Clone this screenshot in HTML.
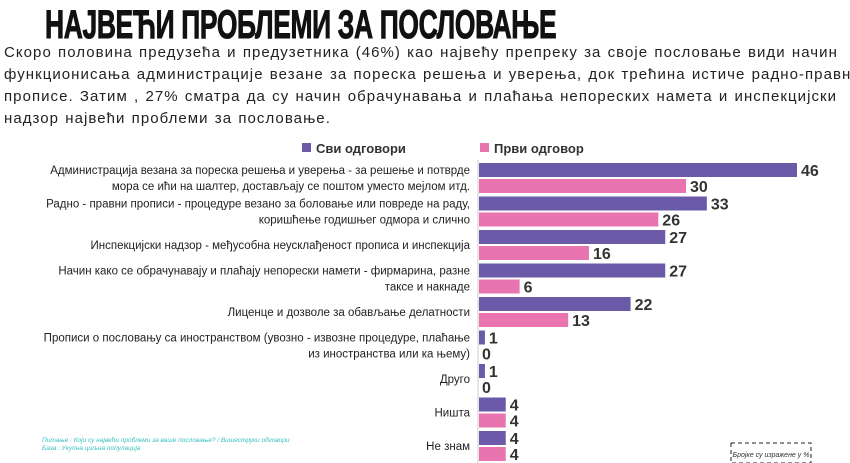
<!DOCTYPE html>
<html><head><meta charset="utf-8"><style>
body{margin:0;width:850px;height:463px;overflow:hidden;background:#fff;font-family:"Liberation Sans",sans-serif;position:relative}
#title{position:absolute;left:45px;top:2px;font-size:40px;line-height:46px;font-weight:bold;color:#111;transform:scaleX(0.66);transform-origin:0 0;white-space:nowrap;letter-spacing:-0.5px;-webkit-text-stroke:1px #111}
#intro{position:absolute;left:4px;top:42px;font-size:15px;line-height:22px;color:#222;white-space:nowrap;letter-spacing:1.05px;word-spacing:1px}
svg{position:absolute;left:0;top:0}
</style></head><body>
<div id="title">НАЈВЕЋИ ПРОБЛЕМИ ЗА ПОСЛОВАЊЕ</div>
<div id="intro">Скоро половина предузећа и предузетника (46%) као највећу препреку за своје пословање види начин<br>функционисања администрације везане за пореска решења и уверења, док трећина истиче радно-правне<br>прописе. Затим , 27% сматра да су начин обрачунавања и плаћања непореских намета и инспекцијски<br>надзор највећи проблеми за пословање.</div>
<svg id="chart" width="850" height="463">
<g>
<rect x="302" y="143" width="9" height="9" fill="#6a5aa8"/>
<text x="316" y="153" font-size="13" font-weight="bold" fill="#333">Сви одговори</text>
<rect x="480" y="143" width="9" height="9" fill="#e875b0"/>
<text x="494" y="153" font-size="13" font-weight="bold" fill="#333">Први одговор</text>
</g>
<line x1="478" y1="160" x2="478" y2="463" stroke="#ccc" stroke-width="1"/>
<g id="bars"></g>
<text x="42" y="442" font-size="6.5" font-style="italic" fill="#3bbfc0">Питање : Који су највећи проблеми за ваше пословање? / Вишеструки одговори</text>
<text x="42" y="450" font-size="6.5" font-style="italic" fill="#3bbfc0">База : Укупна циљна популација</text>
<rect x="731" y="443" width="80" height="20" fill="none" stroke="#222" stroke-dasharray="4,3"/>
<text x="771" y="457" font-size="7" font-style="italic" fill="#333" text-anchor="middle">Бројке су изражене у %</text>
</svg>
<script>
const categories=[
 ["Администрација везана за пореска решења и уверења - за решење и потврде","мора се ићи на шалтер, достављају се поштом уместо мејлом итд."],
 ["Радно - правни прописи - процедуре везано за боловање или повреде на раду,","коришћење годишњег одмора и слично"],
 ["Инспекцијски надзор - међусобна неусклађеност прописа и инспекција"],
 ["Начин како се обрачунавају и плаћају непорески намети - фирмарина, разне","таксе и накнаде"],
 ["Лиценце и дозволе за обављање делатности"],
 ["Прописи о пословању са иностранством (увозно - извозне процедуре, плаћање","из иностранства или ка њему)"],
 ["Друго"],["Ништа"],["Не знам"]];
const allAnswers=[46,33,27,27,22,1,1,4,4];
const firstAnswer=[30,26,16,6,13,0,0,4,4];
const x0=478, unit=(797-478)/46;
const xs=v=>x0+v*unit;
const rowY=i=>170+i*33.5;
const g=document.getElementById('bars');
const NS='http://www.w3.org/2000/svg';
function mk(t,a){const e=document.createElementNS(NS,t);for(const k in a)e.setAttribute(k,a[k]);g.appendChild(e);return e;}
categories.forEach((c,i)=>{
 const yc=rowY(i);
 [[allAnswers,'#6a5aa8',0,'bar-all'],[firstAnswer,'#e875b0',16,'bar-first']].forEach(([arr,col,off,nm])=>{
  const v=arr[i], y=yc+off;
  const r=mk('rect',{x:x0+1,y:y-7,width:Math.max(0,xs(v)-x0-1),height:14,fill:col});
  
  
  const t=mk('text',{x:xs(v)+4,y:y+6,'font-size':16,'font-weight':'bold',fill:'#333'});
  t.textContent=v;
  
  
 });
 const baseY=c.length===2?yc+4:yc+12;
 c.forEach((ln,j)=>{
  const t=mk('text',{x:470,y:baseY+j*16,'font-size':11.5,fill:'#222','text-anchor':'end'});
  t.textContent=ln;
  
  
 });
});
</script>
</body></html>
